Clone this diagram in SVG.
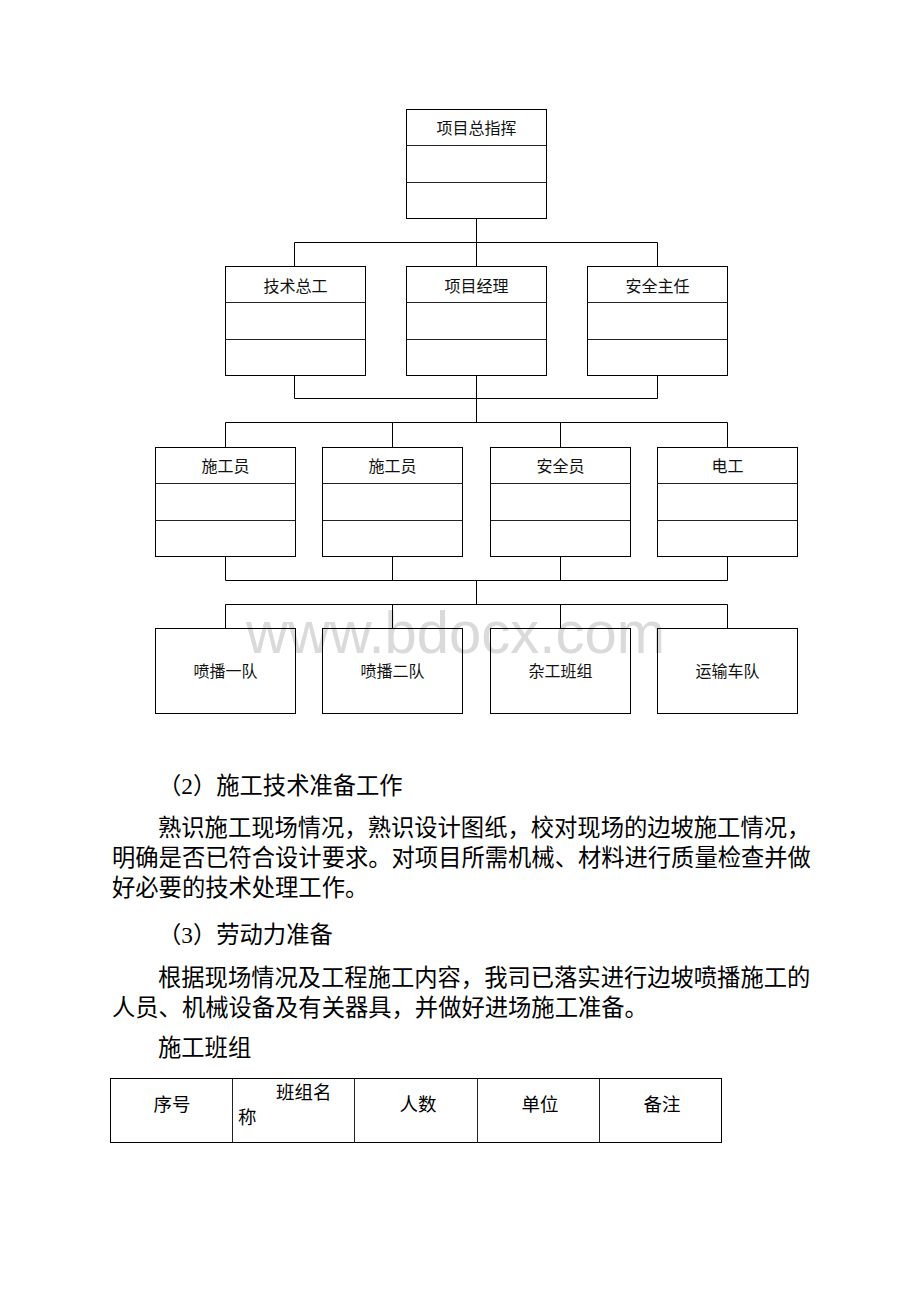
<svg xmlns="http://www.w3.org/2000/svg" width="920" height="1302" viewBox="0 0 920 1302">
<style>
.bx{fill:none;stroke:#000;stroke-width:1}
.dv{stroke:#222;stroke-width:1}
.cn{fill:none;stroke:#000;stroke-width:1}
.lb{font-family:"Liberation Serif","Noto Sans CJK SC",serif;font-size:16px;fill:#111;text-anchor:middle}
.tx{font-family:"Liberation Serif","Noto Sans CJK SC",serif;font-size:23.3px;fill:#000}
.tb{font-family:"Liberation Serif","Noto Sans CJK SC",serif;font-size:18.5px;fill:#000}
.wm{font-family:"Liberation Sans",Arial,sans-serif;font-size:60px;fill:#dadada}
</style>
<rect width="920" height="1302" fill="#fff"/>
<text class="wm" x="246" y="653" textLength="419" lengthAdjust="spacingAndGlyphs">www.bdocx.com</text>

<g id="connectors">
<path class="cn" d="M476.5 218V242.5M294.5 266V242.5H657.5V266M476.5 242.5V266"/>
<path class="cn" d="M294.5 375V398.5H657.5V375M476.5 375V422.5"/>
<path class="cn" d="M225.5 447V422.5H727.5V447M392.5 422.5V447M560.5 422.5V447"/>
<path class="cn" d="M225.5 556V580.5H727.5V556M392.5 556V580.5M560.5 556V580.5M476.5 580.5V604.5"/>
<path class="cn" d="M225.5 628V604.5H727.5V628M392.5 604.5V628M560.5 604.5V628"/>
</g>

<g id="n-zongzhihui">
<rect class="bx" x="406.5" y="109.5" width="140" height="109"/>
<line class="dv" x1="406.5" y1="145.5" x2="546.5" y2="145.5"/>
<line class="dv" x1="406.5" y1="182.5" x2="546.5" y2="182.5"/>
<text class="lb" x="476.5" y="134">项目总指挥</text>
</g>

<g id="n-jishuzonggong">
<rect class="bx" x="225.5" y="266.5" width="140" height="109"/>
<line class="dv" x1="225.5" y1="302.5" x2="365.5" y2="302.5"/>
<line class="dv" x1="225.5" y1="339.5" x2="365.5" y2="339.5"/>
<text class="lb" x="295.5" y="291.5">技术总工</text>
</g>
<g id="n-xiangmujingli">
<rect class="bx" x="406.5" y="266.5" width="140" height="109"/>
<line class="dv" x1="406.5" y1="302.5" x2="546.5" y2="302.5"/>
<line class="dv" x1="406.5" y1="339.5" x2="546.5" y2="339.5"/>
<text class="lb" x="476.5" y="291.5">项目经理</text>
</g>
<g id="n-anquanzhuren">
<rect class="bx" x="587.5" y="266.5" width="140" height="109"/>
<line class="dv" x1="587.5" y1="302.5" x2="727.5" y2="302.5"/>
<line class="dv" x1="587.5" y1="339.5" x2="727.5" y2="339.5"/>
<text class="lb" x="657.5" y="291.5">安全主任</text>
</g>

<g id="n-shigongyuan1">
<rect class="bx" x="155.5" y="447.5" width="140" height="109"/>
<line class="dv" x1="155.5" y1="483.5" x2="295.5" y2="483.5"/>
<line class="dv" x1="155.5" y1="520.5" x2="295.5" y2="520.5"/>
<text class="lb" x="225.5" y="472">施工员</text>
</g>
<g id="n-shigongyuan2">
<rect class="bx" x="322.5" y="447.5" width="140" height="109"/>
<line class="dv" x1="322.5" y1="483.5" x2="462.5" y2="483.5"/>
<line class="dv" x1="322.5" y1="520.5" x2="462.5" y2="520.5"/>
<text class="lb" x="392.5" y="472">施工员</text>
</g>
<g id="n-anquanyuan">
<rect class="bx" x="490.5" y="447.5" width="140" height="109"/>
<line class="dv" x1="490.5" y1="483.5" x2="630.5" y2="483.5"/>
<line class="dv" x1="490.5" y1="520.5" x2="630.5" y2="520.5"/>
<text class="lb" x="560.5" y="472">安全员</text>
</g>
<g id="n-diangong">
<rect class="bx" x="657.5" y="447.5" width="140" height="109"/>
<line class="dv" x1="657.5" y1="483.5" x2="797.5" y2="483.5"/>
<line class="dv" x1="657.5" y1="520.5" x2="797.5" y2="520.5"/>
<text class="lb" x="727.5" y="472">电工</text>
</g>

<g id="n-penbo1">
<rect class="bx" x="155.5" y="628.5" width="140" height="85"/>
<text class="lb" x="225.5" y="677">喷播一队</text>
</g>
<g id="n-penbo2">
<rect class="bx" x="322.5" y="628.5" width="140" height="85"/>
<text class="lb" x="392.5" y="677">喷播二队</text>
</g>
<g id="n-zagong">
<rect class="bx" x="490.5" y="628.5" width="140" height="85"/>
<text class="lb" x="560.5" y="677">杂工班组</text>
</g>
<g id="n-yunshu">
<rect class="bx" x="657.5" y="628.5" width="140" height="85"/>
<text class="lb" x="727.5" y="677">运输车队</text>
</g>

<g id="body-text">
<text class="tx" x="158" y="794">（2）施工技术准备工作</text>
<text class="tx" x="158" y="836">熟识施工现场情况，熟识设计图纸，校对现场的边坡施工情况，</text>
<text class="tx" x="112" y="866">明确是否已符合设计要求。对项目所需机械、材料进行质量检查并做</text>
<text class="tx" x="112" y="896">好必要的技术处理工作。</text>
<text class="tx" x="158" y="943">（3）劳动力准备</text>
<text class="tx" x="158" y="986">根据现场情况及工程施工内容，我司已落实进行边坡喷播施工的</text>
<text class="tx" x="112" y="1016">人员、机械设备及有关器具，并做好进场施工准备。</text>
<text class="tx" x="158" y="1056">施工班组</text>
</g>

<g id="table">
<rect class="bx" x="110.5" y="1078.5" width="611" height="64"/>
<line class="dv" x1="232.5" y1="1078.5" x2="232.5" y2="1142.5"/>
<line class="dv" x1="354.5" y1="1078.5" x2="354.5" y2="1142.5"/>
<line class="dv" x1="477.5" y1="1078.5" x2="477.5" y2="1142.5"/>
<line class="dv" x1="599.5" y1="1078.5" x2="599.5" y2="1142.5"/>
<text class="tb" x="172" y="1111" text-anchor="middle">序号</text>
<text class="tb" x="276" y="1098.5">班组名</text>
<text class="tb" x="238" y="1123.5">称</text>
<text class="tb" x="418" y="1111" text-anchor="middle">人数</text>
<text class="tb" x="540" y="1111" text-anchor="middle">单位</text>
<text class="tb" x="662" y="1111" text-anchor="middle">备注</text>
</g>
</svg>
